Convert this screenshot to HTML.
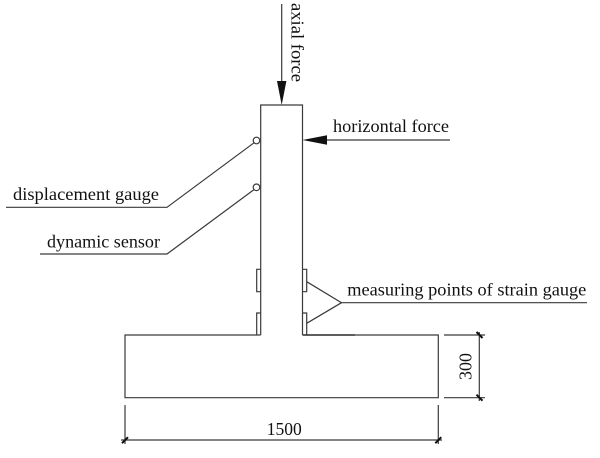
<!DOCTYPE html>
<html><head><meta charset="utf-8"><style>
html,body{margin:0;padding:0;background:#fff;}
svg{display:block;}
text{font-family:"Liberation Serif",serif;font-size:18px;fill:#111;}
</style></head><body>
<svg width="600" height="458" viewBox="0 0 600 458" xmlns="http://www.w3.org/2000/svg">
<g stroke="#3a3a3a" stroke-width="1.2" fill="none">
  <!-- column -->
  <polyline points="260.7,335 260.7,105 302.5,105 302.5,335"/>
  <!-- base -->
  <polyline points="260.7,335 125,335 125,397.7 438.3,397.7 438.3,335 302.5,335"/>
  <line x1="302.5" y1="335" x2="355" y2="335" stroke-width="1.6"/>
  <!-- axial force arrow -->
  <line x1="281.7" y1="4" x2="281.7" y2="85"/>
  <!-- horizontal force arrow -->
  <line x1="325" y1="140" x2="450" y2="140"/>
  <!-- gauges circles -->
  <circle cx="256.5" cy="140.5" r="3.3" fill="#fff"/>
  <circle cx="256.5" cy="187.3" r="3.3" fill="#fff"/>
  <!-- leader lines -->
  <polyline points="254,142.8 167,207.3 6,207.3"/>
  <polyline points="254,189.6 167,254 40,254"/>
  <!-- strain gauge rectangles -->
  <polyline points="260.7,269.3 256.7,269.3 256.7,291.7 260.7,291.7"/>
  <polyline points="260.7,313 256.7,313 256.7,335"/>
  <polyline points="302.5,269.3 306.7,269.3 306.7,291.7 302.5,291.7"/>
  <polyline points="302.5,313 306.7,313 306.7,335"/>
  <!-- triangle leader -->
  <polyline points="306.7,281.7 341.5,302.7 306.7,323.3"/>
  <line x1="341.5" y1="302.7" x2="587" y2="302.7"/>
  <!-- vertical dimension -->
  <line x1="444" y1="335" x2="485" y2="335"/>
  <line x1="444" y1="397.7" x2="485" y2="397.7"/>
  <line x1="479.3" y1="332" x2="479.3" y2="401"/>
  <!-- horizontal dimension -->
  <line x1="125" y1="405" x2="125" y2="444"/>
  <line x1="438.3" y1="405" x2="438.3" y2="444"/>
  <line x1="121" y1="440" x2="442" y2="440"/>
</g>
<g fill="#111" stroke="none">
  <polygon points="281.7,105 277,81 286.4,81"/>
  <polygon points="302.5,140 327,135.3 327,144.7"/>
</g>
<g stroke="#111" stroke-width="2">
  <line x1="476.5" y1="332" x2="482.5" y2="338"/>
  <line x1="476.5" y1="394.7" x2="482.5" y2="400.7"/>
  <line x1="122" y1="443.2" x2="128" y2="437.2"/>
  <line x1="435.3" y1="443.2" x2="441.3" y2="437.2"/>
</g>
<text transform="translate(291.5,3) rotate(90)" textLength="79" lengthAdjust="spacingAndGlyphs">axial force</text>
<text x="333" y="132" textLength="116" lengthAdjust="spacingAndGlyphs">horizontal force</text>
<text x="13" y="200" textLength="146" lengthAdjust="spacingAndGlyphs">displacement gauge</text>
<text x="47" y="247.3" textLength="113" lengthAdjust="spacingAndGlyphs">dynamic sensor</text>
<text x="347.3" y="295.7" textLength="239" lengthAdjust="spacingAndGlyphs">measuring points of strain gauge</text>
<text transform="translate(471.5,380) rotate(-90)" textLength="27" lengthAdjust="spacingAndGlyphs">300</text>
<text x="266.7" y="435" textLength="35" lengthAdjust="spacingAndGlyphs">1500</text>
</svg>
</body></html>
